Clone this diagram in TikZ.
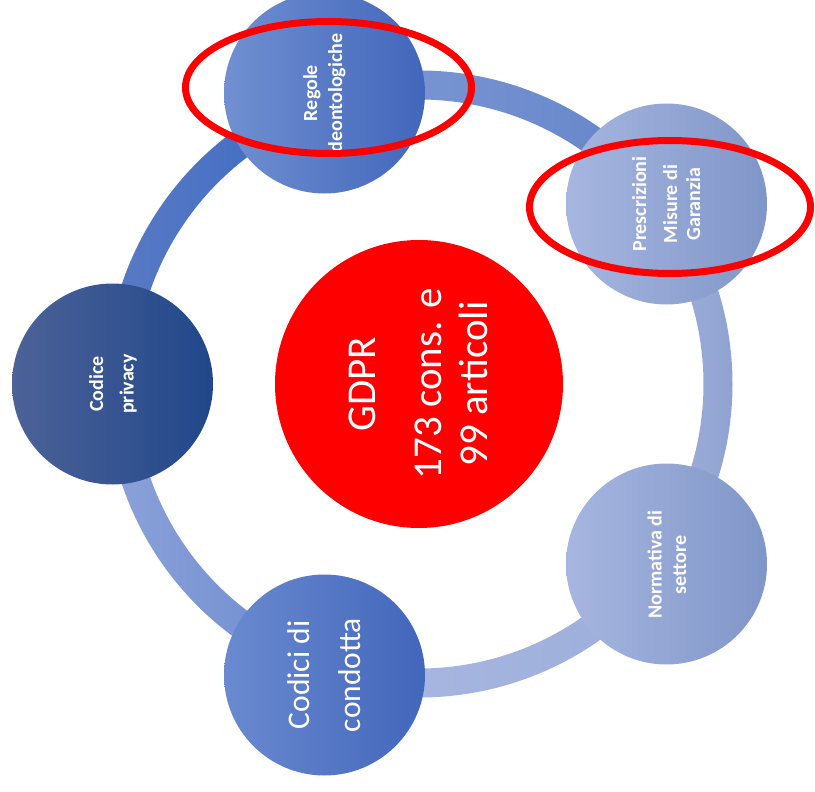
\documentclass[tikz,border=0pt]{standalone}
\usepackage{fontspec}
\setmainfont{Carlito}
\usetikzlibrary{shapes.geometric,calc}

% bubble colours (left / right of the horizontal gradient)
\definecolor{regL}{HTML}{7090D2}
\definecolor{regR}{HTML}{4266BB}
\definecolor{preL}{HTML}{A6B6E0}
\definecolor{preR}{HTML}{8096C8}
\definecolor{priL}{HTML}{4C6298}
\definecolor{priR}{HTML}{21478A}
\definecolor{norL}{HTML}{A6B6E0}
\definecolor{norR}{HTML}{8096C8}
\definecolor{codL}{HTML}{6A8AD0}
\definecolor{codR}{HTML}{4266BB}
\definecolor{gdpr}{HTML}{FE0000}
% ring segment colours
\definecolor{ringAL}{HTML}{5A7BC5}
\definecolor{ringAR}{HTML}{3B69C2}
\definecolor{ringBL}{HTML}{7F9AD5}
\definecolor{ringBR}{HTML}{6384C9}
\definecolor{ringCL}{HTML}{A3B3DE}
\definecolor{ringCR}{HTML}{8B9ECE}
\definecolor{ringDL}{HTML}{AAB9E1}
\definecolor{ringDR}{HTML}{9BADDA}
\definecolor{ringEL}{HTML}{8CA2D9}
\definecolor{ringER}{HTML}{6B8ACF}

\begin{document}
\begin{tikzpicture}[x=1pt,y=-1pt,
  bubble/.style={circle, minimum size=201pt, inner sep=0pt},
  lbl/.style={rotate=90, anchor=base, text=white, inner sep=0pt,
    font=\bfseries\fontsize{20}{24}\selectfont},
  biglbl/.style={rotate=90, anchor=base, text=white, inner sep=0pt,
    font=\fontsize{31.5}{38}\selectfont},
  hugelbl/.style={rotate=90, anchor=base, text=white, inner sep=0pt,
    font=\fontsize{41}{49}\selectfont},
  redmark/.style={ellipse, draw=red, line width=7pt, inner sep=0pt}
]
\useasboundingbox (0,0) rectangle (815,792);
\clip (0,0) rectangle (815,792);

\coordinate (c) at (419,384);

% ring made of five shaded arc segments
\foreach \a/\b/\cl/\cr in {180/252/ringAL/ringAR, 252/324/ringBL/ringBR,
    324/396/ringCL/ringCR, 396/468/ringDL/ringDR, 468/540/ringEL/ringER}{
  \path[left color=\cl, right color=\cr]
    ($(c)+(\a:313.5)$) arc[start angle=\a, end angle=\b, radius=313.5]
    -- ($(c)+(\b:284.5)$) arc[start angle=\b, end angle=\a, radius=284.5]
    -- cycle;
}

% central circle
\node[circle, minimum size=288pt, inner sep=0pt, fill=gdpr] (core) at (c) {};

% outer bubbles
\node[bubble, left color=priL, right color=priR] (privacy) at (112.5,384) {};
\node[bubble, left color=regL, right color=regR] (regole) at (324.5,93) {};
\node[bubble, left color=preL, right color=preR] (prescr) at (666.5,204) {};
\node[bubble, left color=norL, right color=norR] (norm) at (666.5,564) {};
\node[bubble, left color=codL, right color=codR] (codici) at (324.5,675) {};

% labels
\node[hugelbl] (core-a) at (375,384.5) {GDPR};
\node[hugelbl] (core-b) at (441,384) {173 cons. e};
\node[hugelbl] (core-c) at (487,384) {99 articoli};

\node[lbl] (privacy-a) at (103,384) {Codice};
\node[lbl] (privacy-b) at (133.5,384) {privacy};

\node[lbl] (regole-a) at (317,93) {Regole};
\node[lbl] (regole-b) at (342,93) {deontologiche};

\node[lbl] (prescr-a) at (646,204) {Prescrizioni};
\node[lbl] (prescr-b) at (677,204) {Misure di};
\node[lbl] (prescr-c) at (700,204) {Garanzia};

\node[lbl] (norm-a) at (661.5,564.5) {Normativa di};
\node[lbl] (norm-b) at (686,565) {settore};

\node[biglbl] (codici-a) at (309,675) {Codici di};
\node[biglbl] (codici-b) at (360.5,675) {condotta};

% red highlight rings
\node[redmark, minimum width=286pt, minimum height=132pt] (markA) at (328.5,87.5) {};
\node[redmark, minimum width=281pt, minimum height=133pt] (markB) at (670,207) {};
\end{tikzpicture}
\end{document}
